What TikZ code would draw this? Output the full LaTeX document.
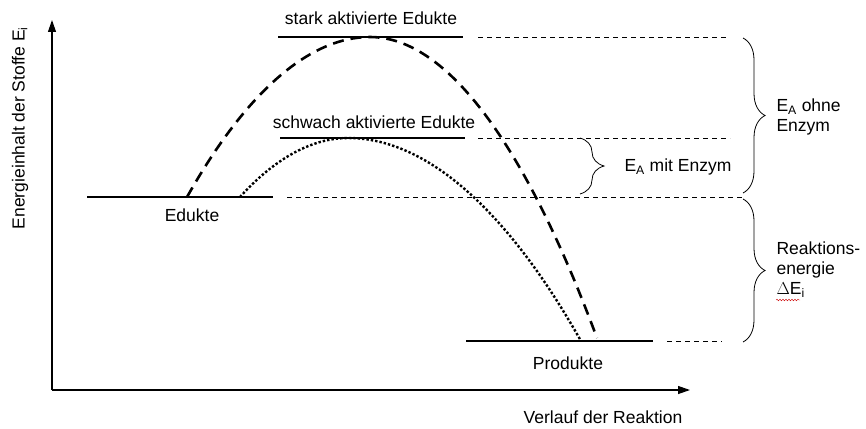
\documentclass[tikz,border=0pt]{standalone}
\usepackage{fontspec}
\setmainfont{Liberation Sans}
\usetikzlibrary{arrows.meta,decorations.pathreplacing,decorations.pathmorphing}

\begin{document}
\begin{tikzpicture}[x=1pt,y=-1pt,font=\fontsize{17.5}{20}\selectfont,
  achse/.style={line width=1.2pt,-{Triangle[length=12pt,width=8pt]}},
  niveau/.style={line width=1.5pt},
  hilfslinie/.style={line width=0.7pt,dash pattern=on 5pt off 4pt},
  klammer/.style={decorate,decoration={brace,amplitude=22pt},line width=0.8pt}]
\useasboundingbox (0,0) rectangle (866,428);
%\draw[step=50,gray,very thin] (0,0) grid (866,428);

% Achsen
\coordinate (O) at (52,390);
\coordinate (ytip) at (52,20);
\coordinate (xtip) at (690,390);
\draw[achse] (O) -- (ytip);
\draw[achse] (O) -- (xtip);
\node[rotate=90] (ylabel) at (20,128) {Energieinhalt der Stoffe E\textsubscript{i}};
\node (xlabel) at (603,417) {Verlauf der Reaktion};

% Energieniveaus
\coordinate (eduktL) at (87,197);   \coordinate (eduktR) at (273,197);
\coordinate (starkL) at (278,37);   \coordinate (starkR) at (463,37);
\coordinate (schwachL) at (280,138);\coordinate (schwachR) at (465,138);
\coordinate (produktL) at (466,341);\coordinate (produktR) at (653,341);
\draw[niveau] (eduktL) -- (eduktR);
\draw[niveau] (starkL) -- (starkR);
\draw[niveau] (schwachL) -- (schwachR);
\draw[niveau] (produktL) -- (produktR);
\node (edukte) at (192,215) {Edukte};
\node (produkte) at (568,363) {Produkte};
\node (stark) at (371,18) {stark aktivierte Edukte};
\node (schwach) at (374,122) {schwach aktivierte Edukte};

% Reaktionswege
\draw[line width=2.6pt,dash pattern=on 11pt off 7pt] (187,197) parabola bend (370,37) (597,338);
\draw[line width=2.4pt,dotted] (240,197) parabola bend (348,138) (581,341);

% Hilfslinien
\draw[hilfslinie] (478,37) -- (728,37);
\draw[hilfslinie] (478,138) -- (730,138);
\draw[hilfslinie] (287,197) -- (745,197);
\draw[hilfslinie] (667,341) -- (722,341);

% Klammern
\draw[klammer] (743,38) -- (743,193) coordinate[midway] (ohneK);
\draw[klammer] (743,199) -- (743,342) coordinate[midway] (reakK);
\draw[klammer,decoration={amplitude=24pt}] (580,138) -- (580,194) coordinate[midway] (mitK);
\node[anchor=west,align=left] (ohne) at (773,117) {E\textsubscript{A} ohne\\Enzym};
\node[anchor=west,align=left] (reak) at (773,270) {Reaktions-\\energie\\$\Delta$E\textsubscript{i}};
\node[anchor=west] (mit) at (621,167) {E\textsubscript{A} mit Enzym};
\draw[red!80!black,line width=0.4pt,decorate,decoration={snake,amplitude=0.8pt,segment length=3pt}] (776,300) -- (800,300);
\end{tikzpicture}
\end{document}
